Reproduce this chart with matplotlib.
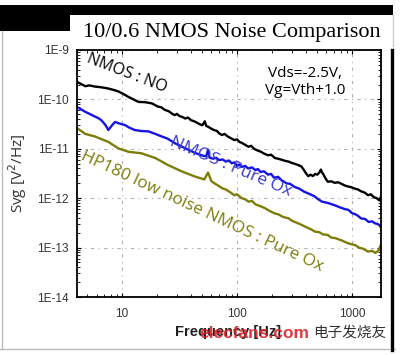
import matplotlib
matplotlib.use("Agg")
import matplotlib.pyplot as plt
from matplotlib.patches import Rectangle
from matplotlib.lines import Line2D

# ---- data ----
freq_no = [4.0, 4.4, 4.8, 5.2, 5.8, 6.6, 7.6, 8.5, 9.3, 10.2, 11.4, 12.6, 13.9, 15.8, 18.2, 20.4, 22.0,
           23.4, 25.7, 27.0, 28.8, 30.0, 31.6, 33.5, 35.5, 37.5, 39.8, 42.5, 45.7, 48, 50, 52.5, 54, 56,
           59, 63, 67, 70, 74, 78, 83, 88, 95, 100, 105, 110, 118, 126, 133, 141, 150, 162, 172, 186,
           198, 214, 228, 245, 262, 282, 298, 316, 340, 363, 380, 398, 417, 437, 457, 480, 500, 520,
           537, 550, 562, 590, 617, 660, 708, 760, 813, 870, 933, 1000, 1070, 1130, 1200, 1290, 1380,
           1460, 1550, 1640, 1740, 1780]
svg_no = [2.3e-10, 2.05e-10, 1.85e-10, 1.92e-10, 1.82e-10, 1.76e-10, 1.66e-10, 1.55e-10, 1.45e-10,
          1.3e-10, 1.12e-10, 1.0e-10, 8.9e-11, 8.8e-11, 8.3e-11, 7.2e-11, 6.9e-11, 6.2e-11, 5.7e-11,
          5.2e-11, 4.8e-11, 5.1e-11, 4.6e-11, 4.4e-11, 4.1e-11, 4.3e-11, 3.8e-11, 3.6e-11, 3.3e-11,
          3.1e-11, 3.0e-11, 3.6e-11, 2.9e-11, 2.8e-11, 2.6e-11, 2.4e-11, 2.3e-11, 2.05e-11, 1.9e-11,
          2.0e-11, 1.78e-11, 1.65e-11, 1.5e-11, 1.55e-11, 1.38e-11, 1.32e-11, 1.2e-11, 1.1e-11,
          1.15e-11, 1.0e-11, 9.3e-12, 8.7e-12, 8.0e-12, 7.4e-12, 7.6e-12, 6.5e-12, 6.3e-12, 6.0e-12,
          5.7e-12, 5.5e-12, 5.2e-12, 5.0e-12, 4.7e-12, 4.4e-12, 3.8e-12, 3.2e-12, 2.8e-12, 3.0e-12,
          2.8e-12, 3.1e-12, 3.0e-12, 3.3e-12, 3.8e-12, 3.3e-12, 3.1e-12, 2.5e-12, 2.15e-12, 2.2e-12,
          2.05e-12, 2.1e-12, 1.95e-12, 1.8e-12, 1.72e-12, 1.65e-12, 1.55e-12, 1.5e-12, 1.38e-12,
          1.3e-12, 1.15e-12, 1.2e-12, 1.05e-12, 1.0e-12, 9.0e-13, 1.05e-12]

freq_ox = [4.0, 4.4, 4.8, 5.3, 5.8, 6.2, 6.6, 7.2, 7.6, 8.2, 8.7, 9.3, 10.7, 11.5, 12.9, 14.5, 17.0,
           19.5, 22.1, 25.0, 28.8, 32, 38, 43, 49, 54, 56, 58, 62, 66, 70, 75, 80, 85, 90, 95, 100,
           105, 110, 118, 125, 135, 145, 152, 160, 172, 186, 198, 210, 228, 245, 270, 290, 316, 350,
           385, 417, 470, 510, 550, 620, 708, 790, 870, 933, 1000, 1100, 1200, 1300, 1400, 1500,
           1585, 1680, 1740, 1780]
svg_ox = [7.1e-11, 6.3e-11, 5.6e-11, 5.0e-11, 4.5e-11, 4.2e-11, 3.8e-11, 3.0e-11, 2.4e-11, 3.0e-11,
          3.5e-11, 3.3e-11, 3.0e-11, 2.7e-11, 2.4e-11, 2.3e-11, 2.25e-11, 2.0e-11, 1.78e-11, 1.6e-11,
          1.3e-11, 1.15e-11, 9.5e-12, 8.3e-12, 7.4e-12, 7.0e-12, 9.5e-12, 6.6e-12, 6.3e-12, 6.6e-12,
          5.9e-12, 6.1e-12, 5.5e-12, 5.8e-12, 5.1e-12, 5.3e-12, 4.5e-12, 4.8e-12, 4.3e-12, 4.5e-12,
          4.0e-12, 4.2e-12, 3.7e-12, 3.9e-12, 3.4e-12, 3.5e-12, 3.0e-12, 3.1e-12, 2.6e-12, 2.7e-12,
          2.3e-12, 2.0e-12, 1.95e-12, 1.7e-12, 1.55e-12, 1.35e-12, 1.25e-12, 1.1e-12, 9.5e-13,
          8.5e-13, 8.0e-13, 7.2e-13, 6.5e-13, 6.0e-13, 5.8e-13, 5.0e-13, 4.6e-13, 3.9e-13, 3.8e-13,
          3.3e-13, 3.4e-13, 3.1e-13, 3.0e-13, 2.8e-13, 2.6e-13]

freq_hp = [3.9, 4.8, 5.8, 7.6, 9.3, 11.4, 14.8, 19.5, 25.1, 33, 43, 52, 56, 60, 66, 70, 74, 80, 86,
           95, 100, 110, 118, 126, 135, 145, 162, 175, 190, 214, 230, 250, 282, 300, 330, 363, 400,
           440, 479, 520, 560, 617, 660, 720, 813, 870, 950, 1070, 1150, 1250, 1380, 1500, 1600,
           1700, 1780]
svg_hp = [2.8e-11, 2.0e-11, 1.78e-11, 1.38e-11, 1.02e-11, 8.7e-12, 8.1e-12, 6.5e-12, 4.7e-12,
          3.5e-12, 2.75e-12, 2.4e-12, 3.3e-12, 2.2e-12, 1.9e-12, 1.75e-12, 1.6e-12, 1.5e-12, 1.35e-12,
          1.15e-12, 1.2e-12, 1.0e-12, 9.5e-13, 8.5e-13, 8.8e-13, 7.5e-13, 6.8e-13, 6.3e-13, 5.6e-13,
          4.9e-13, 4.7e-13, 4.2e-13, 3.9e-13, 3.5e-13, 3.2e-13, 2.9e-13, 2.6e-13, 2.35e-13, 2.1e-13,
          2.05e-13, 1.85e-13, 1.8e-13, 1.6e-13, 1.55e-13, 1.4e-13, 1.3e-13, 1.2e-13, 1.12e-13,
          1.0e-13, 9.5e-14, 8.3e-14, 8.6e-14, 7.8e-14, 8.7e-14, 1.12e-13]

ytick_vals = [1e-14, 1e-13, 1e-12, 1e-11, 1e-10, 1e-9]
ytick_labels = ['1E-14', '1E-13', '1E-12', '1E-11', '1E-10', '1E-9']
xtick_vals = [10, 100, 1000]
xtick_labels = ['10', '100', '1000']

# ---- figure ----
W, H = 405, 355
fig = plt.figure(figsize=(W / 100, H / 100), dpi=100)
fig.patch.set_facecolor('white')

def px(x, y):
    return x / W, 1 - y / H

# decorations
fig.add_artist(Rectangle(px(0, 15), 393 / W, 10 / H, transform=fig.transFigure,
                         facecolor='black', edgecolor='none'))
fig.add_artist(Rectangle(px(0, 31), 70 / W, 16 / H, transform=fig.transFigure,
                         facecolor='black', edgecolor='none'))
fig.add_artist(Line2D([2 / W, 2 / W], [1 - 31 / H, 1 - 349 / H], transform=fig.transFigure,
                      color='#bbbbbb', lw=1))
fig.add_artist(Line2D([0, 395 / W], [1 - 349 / H, 1 - 349 / H], transform=fig.transFigure,
                      color='#bbbbbb', lw=1))
fig.add_artist(Line2D([393 / W, 393 / W], [1 - 15 / H, 1 - 46 / H], transform=fig.transFigure,
                      color='#cccccc', lw=1))
fig.add_artist(Line2D([392 / W, 392 / W], [1 - 50 / H, 1 - 350 / H], transform=fig.transFigure,
                      color='black', lw=2.4))

ax = fig.add_axes([77 / W, 58 / H, 304 / W, 247 / H])
ax.set_xscale('log')
ax.set_yscale('log')

ax.plot(freq_no, svg_no, color='black', lw=1.7)
ax.plot(freq_ox, svg_ox, color='#1414e6', lw=1.7)
ax.plot(freq_hp, svg_hp, color='#7d7d0a', lw=1.7)

ax.set_xlim(4.06, 1790)
ax.set_ylim(1e-14, 1e-9)
ax.set_xticks(xtick_vals)
ax.set_xticklabels(xtick_labels)
ax.set_yticks(ytick_vals)
ax.set_yticklabels(ytick_labels)
ax.tick_params(which='both', direction='in', top=True, right=True, colors='black',
               labelcolor='#333333', labelsize=8.5)
ax.tick_params(which='major', length=3, width=0.8)
ax.tick_params(which='minor', length=2, width=0.6)
for lab in ax.get_xticklabels() + ax.get_yticklabels():
    lab.set_family('Liberation Sans')
ax.tick_params(axis='x', pad=8)
ax.tick_params(axis='y', pad=6)
ax.grid(True, which='major', color='#b0b0b0', lw=0.8, linestyle=(0, (3, 4, 1, 4)))
for s in ax.spines.values():
    s.set_linewidth(1.3)

ax.set_ylabel('Svg [V$^2$/Hz]', fontsize=11, color='#333333', family='Open Sans', labelpad=6)

# title
fig.text(232 / W, 1 - 33 / H, '10/0.6 NMOS Noise Comparison', ha='center', va='center',
         fontsize=16, family='Liberation Serif', color='black')

# annotations
ax.text(0.165, 0.905, 'NMOS : NO', transform=ax.transAxes, rotation=-21, ha='center',
        va='center', fontsize=11.5, family='Open Sans', color='black')
ax.text(0.75, 0.87, 'Vds=-2.5V,\nVg=Vth+1.0', transform=ax.transAxes, ha='center',
        va='center', fontsize=11, family='Open Sans', color='black', linespacing=1.2)
ax.text(0.505, 0.525, 'NMOS : Pure Ox', transform=ax.transAxes, rotation=-23, ha='center',
        va='center', fontsize=12.5, family='Open Sans', color='#3a3ad0')
ax.text(0.41, 0.345, 'HP180 low noise NMOS : Pure Ox', transform=ax.transAxes, rotation=-25,
        ha='center', va='center', fontsize=12.3, family='Open Sans', color='#7d7d0a')

# x label and watermark (the watermark overlaps the label in the reference too)
fig.text(228 / W, 1 - 332 / H, 'Frequency [Hz]', ha='center', va='center', fontsize=10.5,
         fontweight='bold', family='Liberation Sans', color='#222222')
fig.text(254 / W, 1 - 333 / H, 'elecfans.com', ha='center', va='center', fontsize=12.5,
         fontweight='bold', family='Liberation Sans', color='#d8262c', alpha=0.9)
fig.text(350 / W, 1 - 333 / H, '电子发烧友', ha='center', va='center', fontsize=10.5,
         family=['Noto Sans CJK SC', 'DejaVu Sans'], color='#333333')

fig.savefig('out.png', dpi=100, facecolor='white')
